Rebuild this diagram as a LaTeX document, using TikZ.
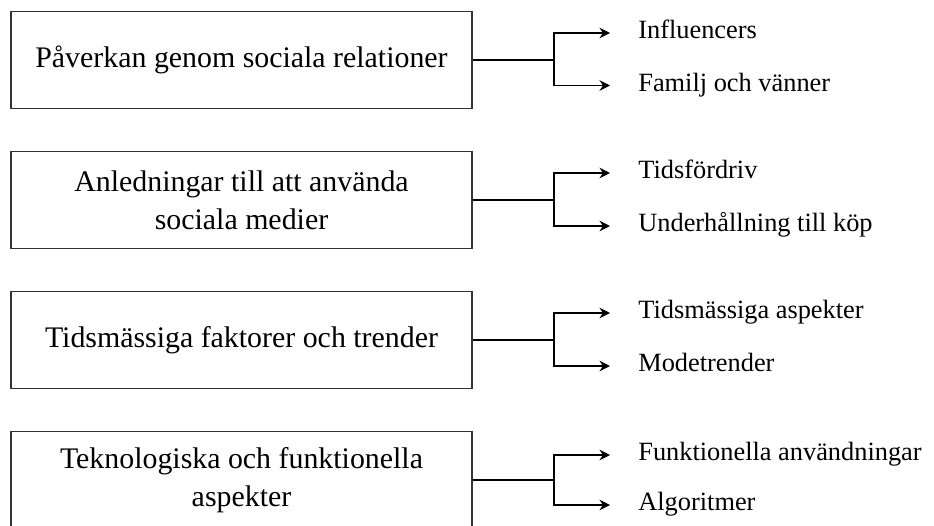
\documentclass[tikz,border=0pt]{standalone}
\usepackage{fontspec}
\setmainfont{Liberation Serif}
\usetikzlibrary{arrows.meta}
\begin{document}
\begin{tikzpicture}[
    topic/.style={draw=black!80,line width=0.7pt,minimum width=9.22cm,
      minimum height=1.94cm,align=center,inner sep=0pt,
      font=\fontsize{17}{21.5}\selectfont},
    item/.style={anchor=west,inner sep=0pt,text height=10pt,text depth=3.2pt,
      font=\fontsize{15}{18}\selectfont},
    conn/.style={line width=0.8pt},
    branch/.style={conn,shorten >=0.56cm,
      -{Stealth[length=6pt,width=6pt,inset=2pt]}}]
      \useasboundingbox (0,0) rectangle (18.68,-10.5);%
      \clip (0,0) rectangle (18.68,-10.5);%

      % topics
      \node[topic] (T1) at (4.83,-1.2) {Påverkan genom sociala relationer};%
      \node[topic] (T2) at (4.83,-4.0) {Anledningar till att använda\\sociala medier};%
      \node[topic] (T3) at (4.83,-6.8) {Tidsmässiga faktorer och trender};%
      \node[topic] (T4) at (4.83,-9.6) {Teknologiska och funktionella\\aspekter};%

      % junctions
      \coordinate (J1) at (11.08,-1.2);%
      \coordinate (J2) at (11.08,-4.0);%
      \coordinate (J3) at (11.08,-6.8);%
      \coordinate (J4) at (11.08,-9.6);%

      % items
      \node[item] (I1a) at (12.76,-0.66) {Influencers};%
      \node[item] (I1b) at (12.76,-1.71) {Familj och vänner};%
      \node[item] (I2a) at (12.76,-3.46) {Tidsfördriv};%
      \node[item] (I2b) at (12.76,-4.52) {Underhållning till köp};%
      \node[item] (I3a) at (12.76,-6.26) {Tidsmässiga aspekter};%
      \node[item] (I3b) at (12.76,-7.32) {Modetrender};%
      \node[item] (I4a) at (12.76,-9.1) {Funktionella användningar};%
      \node[item] (I4b) at (12.76,-10.1) {Algoritmer};%

      \draw[conn] (T1) -- (J1);%
      \draw[branch] (J1) |- (I1a);%
      \draw[branch] (J1) |- (I1b);%

      \draw[conn] (T2) -- (J2);%
      \draw[branch] (J2) |- (I2a);%
      \draw[branch] (J2) |- (I2b);%

      \draw[conn] (T3) -- (J3);%
      \draw[branch] (J3) |- (I3a);%
      \draw[branch] (J3) |- (I3b);%

      \draw[conn] (T4) -- (J4);%
      \draw[branch] (J4) |- (I4a);%
      \draw[branch] (J4) |- (I4b);%
    \end{tikzpicture}
\end{document}
